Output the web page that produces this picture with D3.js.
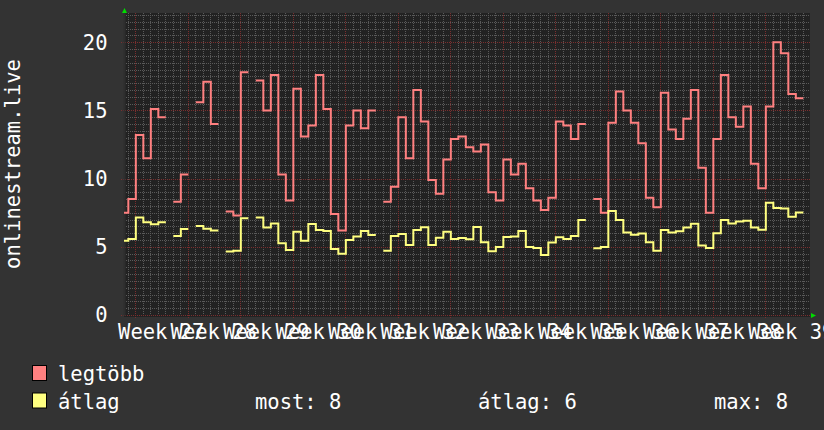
<!DOCTYPE html>
<html><head><meta charset="utf-8">
<script src="https://cdn.jsdelivr.net/npm/d3@7"></script>
<style>html,body{margin:0;padding:0;background:#333333;overflow:hidden}</style>
</head><body><svg id="c" width="824" height="430"></svg>
<script>
// ---- data ----
const weekLabels = ["Week 27","Week 28","Week 29","Week 30","Week 31","Week 32","Week 33",
                    "Week 34","Week 35","Week 36","Week 37","Week 38","Week 39"];
const yTicks = [0, 5, 10, 15, 20];
// daily samples (null = no data)
const legtobb = [
  7.5, 8.5, 13.2, 11.5, 15.1, 14.5, null, 8.3, 10.3, null,
  15.6, 17.1, 14.0, null, 7.6, 7.3, 17.8, null, 17.2, 15.0,
  17.6, 10.3, 8.4, 16.6, 13.1, 13.9, 17.6, 15.1, 7.4, 6.2,
  13.9, 15.0, 13.7, 15.0, null, 8.3, 9.4, 14.5, 11.5, 16.5,
  14.2, 9.9, 8.9, 11.4, 12.9, 13.1, 12.3, 12.0, 12.5, 9.0,
  8.4, 11.4, 10.3, 11.1, 9.3, 8.4, 7.7, 8.6, 14.2, 13.9,
  12.9, 14.0, null, 8.5, 7.5, 14.1, 16.4, 15.0, 14.1, 12.6,
  8.6, 7.9, 16.3, 13.6, 12.9, 14.4, 16.5, 10.8, 7.5, 12.9,
  17.6, 14.5, 13.8, 15.3, 11.1, 9.3, 15.3, 20.0, 19.2, 16.2,
  15.9
];
const atlag = [
  5.45, 5.57, 7.16, 6.8, 6.65, 6.8, null, 5.79, 6.31, null,
  6.53, 6.33, 6.19, null, 4.65, 4.72, 7.09, null, 7.16, 6.41,
  6.72, 5.26, 4.77, 6.11, 5.45, 6.67, 6.23, 6.16, 4.84, 4.5,
  5.5, 5.75, 6.16, 5.87, null, 4.72, 5.79, 5.94, 5.13, 6.23,
  6.43, 5.13, 5.67, 6.11, 5.57, 5.65, 5.55, 6.45, 5.33, 4.67,
  4.99, 5.72, 5.75, 6.16, 4.99, 4.91, 4.4, 5.31, 5.7, 5.57,
  5.79, 6.97, null, 4.89, 4.99, 7.63, 6.97, 6.06, 5.89, 5.97,
  5.33, 4.72, 6.23, 6.06, 6.14, 6.41, 6.7, 5.09, 4.91, 5.99,
  6.97, 6.72, 6.85, 6.92, 6.41, 6.26, 8.24, 7.85, 7.82, 7.21,
  7.51
];
const firstSampleDay = -1.889;   // start of first sample, in days from Week 27 start
const viewDays = [-1.467, 90];   // visible time window (days)
const valueMax = 22.15;

// ---- chart ----
const FONT = "'DejaVu Sans Mono', monospace";
const FS = 20.5;
const svg = d3.select("#c");
svg.append("rect").attr("width", 824).attr("height", 430).attr("fill", "#333333");

const x = d3.scaleLinear().domain(viewDays).range([124, 810]);
const y = d3.scaleLinear().domain([0, valueMax]).range([315, 13]);
const px = v => Math.round(v) + 0.5;

const [x0, x1] = x.range();
const [yb, yt] = y.range();

svg.append("rect").attr("x", x0).attr("y", yt).attr("width", x1 - x0).attr("height", yb - yt + 2)
  .attr("fill", "#222222");

const grid = svg.append("g").attr("shape-rendering", "crispEdges");
// minor grid
const minorY = d3.range(0, 22.01, 0.5).filter(v => v % 5 !== 0);
grid.selectAll(".hm").data(minorY).join("line")
  .attr("x1", x0).attr("x2", x1).attr("y1", d => px(y(d))).attr("y2", d => px(y(d)))
  .attr("stroke", "#5a5a5a").attr("stroke-dasharray", "1,1");
const minorX = d3.range(-1, 90).filter(d => d % 7 !== 0);
grid.selectAll(".vm").data(minorX).join("line")
  .attr("x1", d => px(x(d))).attr("x2", d => px(x(d))).attr("y1", yt).attr("y2", yb)
  .attr("stroke", "#5a5a5a").attr("stroke-dasharray", "1,1");
// major grid
grid.selectAll(".hM").data(yTicks).join("line")
  .attr("x1", x0 - 3).attr("x2", x1).attr("y1", d => px(y(d))).attr("y2", d => px(y(d)))
  .attr("stroke", "#7a2e2e").attr("stroke-dasharray", "1,1");
grid.selectAll(".vM").data(weekLabels).join("line")
  .attr("x1", (d, i) => px(x(i * 7))).attr("x2", (d, i) => px(x(i * 7)))
  .attr("y1", yt).attr("y2", yb + 3)
  .attr("stroke", "#7a2e2e").attr("stroke-dasharray", "1,1");

// y axis line (subtle)
svg.append("line").attr("x1", x0 + 0.5).attr("x2", x0 + 0.5).attr("y1", yt).attr("y2", yb + 1)
  .attr("stroke", "#2e2e2e").attr("stroke-width", 2);

// series
const clip = svg.append("clipPath").attr("id", "clip").append("rect")
  .attr("x", x0).attr("y", yt).attr("width", x1 - x0).attr("height", yb - yt + 2);
function stepPoints(arr) {
  const pts = [];
  arr.forEach((v, k) => {
    if (v === null) { pts.push(null); return; }
    const t = firstSampleDay + k;
    pts.push([t, v], [t + 1, v]);
  });
  return pts;
}
const line = d3.line().defined(d => d !== null).x(d => x(d[0])).y(d => y(d[1]));
const series = [
  { name: "legtöbb", data: legtobb, color: "#ff8080" },
  { name: "átlag", data: atlag, color: "#ffff80" }
];
const lg = svg.append("g").attr("clip-path", "url(#clip)");
series.forEach(s => {
  lg.append("path").attr("d", line(stepPoints(s.data)))
    .attr("fill", "none").attr("stroke", s.color).attr("stroke-width", 2)
    .attr("stroke-linejoin", "miter");
});

// arrows
svg.append("path").attr("d", `M${x0 - 2},${yt} L${x0 + 3},${yt} L${x0 + 0.5},${yt - 5} Z`).attr("fill", "#00dd00");
svg.append("path").attr("d", `M${x1 + 1},${yb - 2} L${x1 + 1},${yb + 3} L${x1 + 6},${yb + 0.5} Z`).attr("fill", "#00dd00");

// y tick labels
svg.selectAll(".yl").data(yTicks).join("text")
  .attr("x", 107.5).attr("y", d => y(d) + 7.4)
  .attr("text-anchor", "end").attr("fill", "#ffffff")
  .attr("font-family", FONT).attr("font-size", FS).text(d => d);

// x labels (centered mid-week)
svg.selectAll(".xl").data(weekLabels).join("text")
  .attr("x", (d, i) => x(i * 7 + 3.5)).attr("y", 338.5)
  .attr("text-anchor", "middle").attr("fill", "#ffffff")
  .attr("font-family", FONT).attr("font-size", FS).text(d => d);

// y title
svg.append("text").attr("transform", `translate(20,${(yt + yb) / 2}) rotate(-90)`)
  .attr("text-anchor", "middle").attr("fill", "#ffffff")
  .attr("font-family", FONT).attr("font-size", FS).text("onlinestream.live");

// legend
const fmt = d3.format(".0f");
const vals = atlag.filter(v => v !== null);
const legendRows = [
  { s: series[0], y: 381 },
  { s: series[1], y: 408.5 }
];
legendRows.forEach(r => {
  svg.append("rect").attr("x", 32.5).attr("y", r.y - 15.5).attr("width", 14).attr("height", 15)
    .attr("fill", r.s.color).attr("stroke", "#000000").attr("stroke-width", 1);
  svg.append("text").attr("x", 58).attr("y", r.y).attr("fill", "#ffffff")
    .attr("font-family", FONT).attr("font-size", FS).text(r.s.name);
});
const stats = [
  { label: "most: " + fmt(vals[vals.length - 1]), x: 255 },
  { label: "átlag: " + fmt(d3.mean(vals)), x: 478 },
  { label: "max: " + fmt(d3.max(vals)), x: 714 }
];
stats.forEach(s => {
  svg.append("text").attr("x", s.x).attr("y", 408.5).attr("fill", "#ffffff")
    .attr("font-family", FONT).attr("font-size", FS).text(s.label);
});
</script></body></html>
